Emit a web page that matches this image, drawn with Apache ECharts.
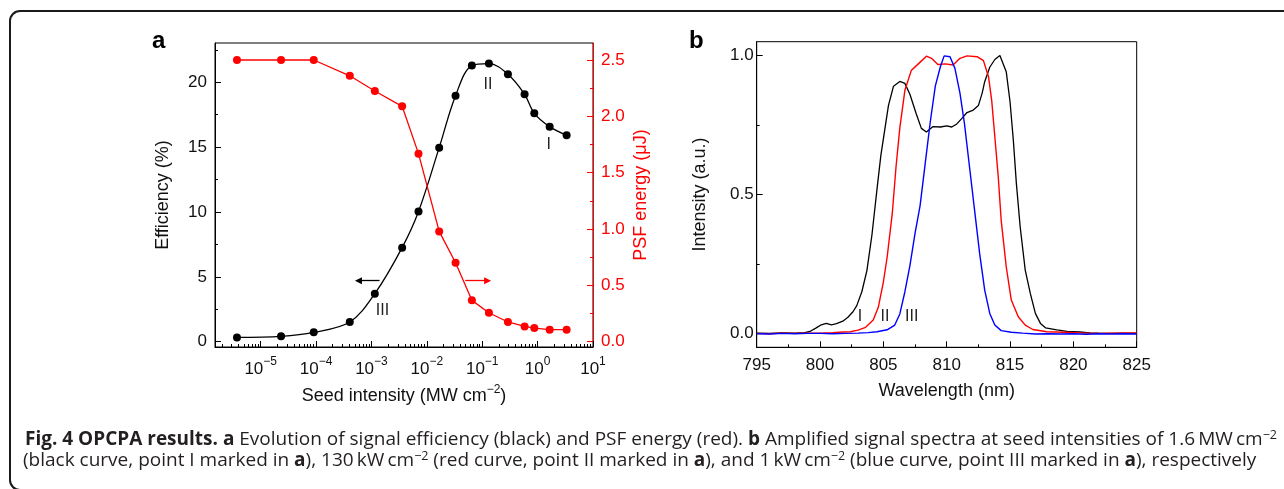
<!DOCTYPE html>
<html>
<head>
<meta charset="utf-8">
<script src="https://cdn.jsdelivr.net/npm/echarts@6/dist/echarts.min.js"></script>
<style>
  html, body { margin: 0; padding: 0; background: #fff; }
  #chart { width: 1284px; height: 489px; }
</style>
</head>
<body>
<div id="chart"></div>
<script>
// ---- Panel a: signal efficiency and PSF energy versus seed intensity ----
const seedIntensity = [3.73e-6, 2.33e-5, 9.08e-5, 4.06e-4, 1.15e-3, 3.58e-3, 7.07e-3, 1.67e-2,
                       3.30e-2, 6.50e-2, 0.132, 0.291, 0.582, 0.871, 1.65, 3.34];   // MW cm^-2
const efficiency    = [0.33, 0.41, 0.72, 1.52, 3.70, 7.25, 10.03, 14.96,
                       18.97, 21.29, 21.44, 20.62, 19.07, 17.61, 16.58, 15.91];      // %
const psfEnergy     = [2.50, 2.50, 2.50, 2.36, 2.225, 2.089, 1.669, 0.979,
                       0.701, 0.367, 0.257, 0.175, 0.136, 0.121, 0.107, 0.107];      // µJ

const seedMajorTicks = [1e-5, 1e-4, 1e-3, 1e-2, 1e-1, 1, 10];
const effTicks       = [0, 5, 10, 15, 20];
const effMinorTicks  = [2.5, 7.5, 12.5, 17.5, 22.5];
const psfTicks       = [0, 0.5, 1.0, 1.5, 2.0, 2.5];
const psfMinorTicks  = [0.25, 0.75, 1.25, 1.75, 2.25];

// point labels and direction arrows of panel a
const pointMarks = [
  { name: 'II',  x: 0.1265,  y: 19.85 },
  { name: 'I',   x: 1.58,    y: 15.22 },
  { name: 'III', x: 1.58e-3, y: 2.39 }
];
const effArrow = [[1.40e-3, 4.70], [5.82e-4, 4.70]];   // efficiency axis
const psfArrow = [[0.0493, 0.541], [0.125, 0.541]];    // PSF energy axis

// ---- Panel b: amplified signal spectra (wavelength nm, normalised intensity) ----
const spectrumI = [ // 1.6 MW cm^-2
  [795, 0.001], [796, 0.0], [797, 0.002], [798, 0.001], [798.8, 0.003], [799.2, 0.007],
  [799.7, 0.02], [800.1, 0.031], [800.5, 0.036], [800.9, 0.031], [801.3, 0.035], [801.8, 0.044],
  [802.2, 0.058], [802.6, 0.078], [802.9, 0.1], [803.3, 0.15], [803.7, 0.226], [804.1, 0.355],
  [804.5, 0.52], [804.8, 0.64], [805.1, 0.73], [805.4, 0.82], [805.8, 0.89], [806.3, 0.907],
  [806.7, 0.9], [807.1, 0.86], [807.6, 0.79], [808.0, 0.738], [808.4, 0.725], [808.9, 0.744],
  [809.5, 0.743], [810.0, 0.747], [810.4, 0.743], [810.8, 0.754], [811.2, 0.774], [811.6, 0.795],
  [812.1, 0.804], [812.5, 0.82], [812.8, 0.865], [813.0, 0.906], [813.4, 0.958], [813.8, 0.986],
  [814.2, 1.0], [814.7, 0.942], [815.0, 0.834], [815.26, 0.696], [815.5, 0.54], [815.8, 0.384],
  [816.2, 0.228], [816.6, 0.144], [817.0, 0.072], [817.4, 0.036], [817.8, 0.02], [818.7, 0.013],
  [819.5, 0.007], [820.5, 0.005], [821.3, 0.002], [822, 0.001], [823, 0.0], [824, 0.001], [825, 0.0]
];
const spectrumII = [ // 130 kW cm^-2
  [795, 0.0], [796, -0.001], [797, 0.001], [798, 0.0], [799, 0.001], [800, 0.001], [801, 0.003],
  [801.8, 0.005], [802.4, 0.006], [803.0, 0.012], [803.6, 0.022], [804.2, 0.048], [804.6, 0.094],
  [805.0, 0.185], [805.3, 0.275], [805.7, 0.43], [806.0, 0.6], [806.3, 0.74], [806.7, 0.875],
  [807.2, 0.946], [807.8, 0.972], [808.4, 0.998], [808.8, 0.99], [809.3, 0.968], [809.9, 0.97],
  [810.5, 0.966], [811.05, 0.99], [811.6, 0.999], [812.4, 0.996], [812.9, 0.982], [813.3, 0.924],
  [813.55, 0.84], [813.8, 0.708], [814.07, 0.564], [814.3, 0.408], [814.7, 0.24], [815.1, 0.12],
  [815.65, 0.06], [816.2, 0.03], [816.8, 0.014], [817.9, 0.006], [819.2, 0.004], [820.5, 0.002],
  [821.6, 0.0], [823, 0.001], [825, 0.002]
];
const spectrumIII = [ // 1 kW cm^-2
  [795, -0.001], [796, -0.002], [797, 0.0], [798, -0.001], [799, 0.0], [800, 0.0], [801, -0.001],
  [802, 0.0], [803, 0.001], [803.8, 0.003], [804.5, 0.006], [805.3, 0.013], [805.9, 0.03],
  [806.3, 0.07], [806.7, 0.15], [807.1, 0.245], [807.5, 0.36], [807.9, 0.46], [808.3, 0.61],
  [808.7, 0.76], [809.1, 0.89], [809.5, 0.96], [809.8, 0.999], [810.26, 0.996], [810.65, 0.954],
  [811.05, 0.864], [811.4, 0.756], [811.8, 0.6], [812.2, 0.444], [812.6, 0.288], [813.0, 0.156],
  [813.4, 0.072], [813.8, 0.03], [814.3, 0.01], [815.1, 0.004], [816, 0.001], [817, -0.002],
  [818, -0.001], [819, -0.002], [820, -0.001], [821, -0.003], [822, -0.001], [823, -0.002],
  [824, -0.001], [825, -0.002]
];
const intensityTicks      = [0, 0.5, 1.0];
const intensityMinorTicks = [0.25, 0.75];
const curveMarks = [
  { name: 'I',   x: 803.16, y: 0.062 },
  { name: 'II',  x: 805.13, y: 0.062 },
  { name: 'III', x: 807.24, y: 0.062 }
];

// ---- styling ----
const FONT = 'Liberation Sans';
const CAPTION_FONT = 'Open Sans';
const CAPTION_SIZE = 19;
const BLACK = '#000000', RED = '#ff0000', BLUE = '#0000ff', TEXT = '#111111', CAPTION_INK = '#231f20';
const SEED_MIN = Math.pow(10, -5.825), SEED_MAX = 10;

// minor ticks of the logarithmic axis: 2..9 within each decade
const seedMinorTicks = [];
for (let e = -6; e <= 0; e++) {
  for (let k = 2; k <= 9; k++) {
    const v = k * Math.pow(10, e);
    if (v > SEED_MIN && v < SEED_MAX) seedMinorTicks.push(v);
  }
}

const supRich = (size, color) => ({
  fontSize: size, lineHeight: size, verticalAlign: 'top', fontFamily: FONT, color: color
});

function powLabel(v) {
  const e = Math.round(Math.log10(v));
  return '{n|10}{s|' + String(e).replace('-', '\u2212') + '}';
}

function lineStyleAxis(color) {
  return { show: true, onZero: false, lineStyle: { color: color, width: 1 } };
}

// overlay axis carrying only short minor ticks
function minorOverlay(base, values, color) {
  return Object.assign({
    axisLine: { show: false, onZero: false },
    axisTick: { show: true, inside: true, length: 3, customValues: values, lineStyle: { color: color, width: 1 } },
    axisLabel: { show: false },
    splitLine: { show: false },
    axisPointer: { show: false },
    silent: true
  }, base);
}

const nameStyle = (color) => ({ fontSize: 18, fontFamily: FONT, color: color, lineHeight: 24 });

const captionRich = {
  b: { fontSize: CAPTION_SIZE, fontFamily: CAPTION_FONT, fontWeight: 'bold', fill: CAPTION_INK, lineHeight: 22 },
  s: { fontSize: 12.5, fontFamily: CAPTION_FONT, fill: CAPTION_INK, lineHeight: 12, verticalAlign: 'top' }
};

const chart = echarts.init(document.getElementById('chart'), null, { renderer: 'canvas' });

chart.setOption({
  animation: false,
  backgroundColor: '#ffffff',
  textStyle: { fontFamily: FONT },
  grid: [
    { left: 215, top: 43, width: 378, height: 304, show: true, borderColor: BLACK, borderWidth: 1,
      containLabel: false, outerBoundsMode: 'none' },
    { left: 756.7, top: 41.7, width: 380, height: 305.6, show: true, borderColor: BLACK, borderWidth: 1,
      containLabel: false, outerBoundsMode: 'none' }
  ],
  xAxis: [
    {
      type: 'log', logBase: 10, gridIndex: 0, position: 'bottom', min: SEED_MIN, max: SEED_MAX,
      axisLine: lineStyleAxis(BLACK),
      axisTick: { inside: true, length: 6, customValues: seedMajorTicks, lineStyle: { color: BLACK } },
      axisLabel: {
        customValues: seedMajorTicks, margin: 9, formatter: powLabel,
        rich: { n: { fontSize: 17, lineHeight: 26, fontFamily: FONT, color: TEXT }, s: supRich(12, TEXT) }
      },
      splitLine: { show: false },
      name: 'Seed intensity (MW cm{s|\u22122})', nameLocation: 'middle', nameGap: 37,
      nameTextStyle: Object.assign(nameStyle(TEXT), { rich: { s: supRich(12, TEXT) } })
    },
    minorOverlay({ type: 'log', logBase: 10, gridIndex: 0, position: 'bottom', min: SEED_MIN, max: SEED_MAX },
                 seedMinorTicks, BLACK),
    {
      type: 'value', gridIndex: 1, position: 'bottom', min: 795, max: 825, interval: 5,
      axisLine: lineStyleAxis(BLACK),
      axisTick: { inside: true, length: 6, lineStyle: { color: BLACK } },
      minorTick: { show: true, splitNumber: 2, length: 3, lineStyle: { color: BLACK } },
      axisLabel: { margin: 10, fontSize: 17, color: TEXT, fontFamily: FONT },
      splitLine: { show: false },
      name: 'Wavelength (nm)', nameLocation: 'middle', nameGap: 32,
      nameTextStyle: nameStyle(TEXT)
    }
  ],
  yAxis: [
    {
      type: 'value', gridIndex: 0, position: 'left', min: -0.41, max: 23.03,
      axisLine: lineStyleAxis(BLACK),
      axisTick: { inside: true, length: 6, customValues: effTicks, lineStyle: { color: BLACK } },
      axisLabel: { customValues: effTicks, margin: 8, fontSize: 17, color: TEXT, fontFamily: FONT },
      splitLine: { show: false },
      name: 'Efficiency (%)', nameLocation: 'middle', nameGap: 40,
      nameTextStyle: nameStyle(TEXT)
    },
    minorOverlay({ type: 'value', gridIndex: 0, position: 'left', min: -0.41, max: 23.03 }, effMinorTicks, BLACK),
    {
      type: 'value', gridIndex: 0, position: 'right', min: -0.047, max: 2.651,
      axisLine: lineStyleAxis(RED),
      axisTick: { inside: true, length: 6, customValues: psfTicks, lineStyle: { color: RED } },
      axisLabel: { customValues: psfTicks, margin: 8, fontSize: 17, color: RED, fontFamily: FONT,
                   formatter: (v) => v.toFixed(1) },
      splitLine: { show: false },
      name: 'PSF energy (\u03bcJ)', nameLocation: 'middle', nameGap: 22,
      nameTextStyle: nameStyle(RED)
    },
    minorOverlay({ type: 'value', gridIndex: 0, position: 'right', min: -0.047, max: 2.651 }, psfMinorTicks, RED),
    {
      type: 'value', gridIndex: 1, position: 'left', min: -0.05, max: 1.05,
      axisLine: lineStyleAxis(BLACK),
      axisTick: { inside: true, length: 6, customValues: intensityTicks, lineStyle: { color: BLACK } },
      axisLabel: { customValues: intensityTicks, margin: 3, fontSize: 17, color: TEXT, fontFamily: FONT,
                   formatter: (v) => v.toFixed(1) },
      splitLine: { show: false },
      name: 'Intensity (a.u.)', nameLocation: 'middle', nameGap: 45,
      nameTextStyle: nameStyle(TEXT)
    },
    minorOverlay({ type: 'value', gridIndex: 1, position: 'left', min: -0.05, max: 1.05 }, intensityMinorTicks, BLACK)
  ],
  series: [
    {
      name: 'Efficiency', type: 'line', xAxisIndex: 0, yAxisIndex: 0,
      data: seedIntensity.map((x, i) => [x, efficiency[i]]),
      smooth: 0.35, symbol: 'circle', symbolSize: 8, showSymbol: true,
      itemStyle: { color: BLACK }, lineStyle: { color: BLACK, width: 1.3 },
      emphasis: { disabled: true }, silent: true, z: 3,
      markLine: {
        silent: true, symbol: ['none', 'triangle'], symbolSize: 7, animation: false,
        label: { show: false },
        lineStyle: { color: BLACK, width: 1.3, type: 'solid' },
        data: [[{ coord: effArrow[0] }, { coord: effArrow[1] }]]
      },
      markPoint: {
        silent: true, symbol: 'rect', symbolSize: 1, itemStyle: { color: 'rgba(0,0,0,0)' },
        label: { show: true, position: 'inside', formatter: '{b}', fontSize: 16, color: '#222', fontFamily: FONT },
        data: pointMarks.map(m => ({ name: m.name, coord: [m.x, m.y] }))
      }
    },
    {
      name: 'PSF energy', type: 'line', xAxisIndex: 0, yAxisIndex: 2,
      data: seedIntensity.map((x, i) => [x, psfEnergy[i]]),
      symbol: 'circle', symbolSize: 8, showSymbol: true,
      itemStyle: { color: RED }, lineStyle: { color: RED, width: 1.3 },
      emphasis: { disabled: true }, silent: true, z: 4,
      markLine: {
        silent: true, symbol: ['none', 'triangle'], symbolSize: 7, animation: false,
        label: { show: false },
        lineStyle: { color: RED, width: 1.3, type: 'solid' },
        data: [[{ coord: psfArrow[0] }, { coord: psfArrow[1] }]]
      }
    },
    {
      name: 'I', type: 'line', xAxisIndex: 2, yAxisIndex: 4, data: spectrumI,
      symbol: 'none', lineStyle: { color: BLACK, width: 1.3 }, emphasis: { disabled: true }, silent: true,
      markPoint: {
        silent: true, symbol: 'rect', symbolSize: 1, itemStyle: { color: 'rgba(0,0,0,0)' },
        label: { show: true, position: 'inside', formatter: '{b}', fontSize: 16, color: '#222', fontFamily: FONT },
        data: curveMarks.map(m => ({ name: m.name, coord: [m.x, m.y] }))
      }
    },
    {
      name: 'II', type: 'line', xAxisIndex: 2, yAxisIndex: 4, data: spectrumII,
      symbol: 'none', lineStyle: { color: RED, width: 1.4 }, emphasis: { disabled: true }, silent: true
    },
    {
      name: 'III', type: 'line', xAxisIndex: 2, yAxisIndex: 4, data: spectrumIII,
      symbol: 'none', lineStyle: { color: BLUE, width: 1.4 }, emphasis: { disabled: true }, silent: true
    }
  ],
  graphic: [
    { type: 'rect', silent: true, z: 0,
      shape: { x: 10, y: 11, width: 1300, height: 479, r: 10 },
      style: { fill: 'none', stroke: '#1a1a1a', lineWidth: 2 } },
    { type: 'text', left: 152, top: 29, silent: true,
      style: { text: 'a', fontSize: 24, fontWeight: 'bold', fontFamily: FONT, fill: BLACK } },
    { type: 'text', left: 689, top: 29, silent: true,
      style: { text: 'b', fontSize: 24, fontWeight: 'bold', fontFamily: FONT, fill: BLACK } },
    { type: 'text', x: 25, y: 440, silent: true,
      style: {
        text: '{b|Fig. 4 OPCPA results. a} Evolution of signal efficiency (black) and PSF energy (red). {b|b} Amplified signal spectra at seed intensities of 1.6\u2009MW\u2009cm{s|\u22122}',
        fontSize: CAPTION_SIZE, fontFamily: CAPTION_FONT, fill: CAPTION_INK, lineHeight: 22, verticalAlign: 'middle',
        rich: captionRich
      } },
    { type: 'text', x: 23, y: 461, silent: true,
      style: {
        text: '(black curve, point I marked in {b|a}), 130\u2009kW\u2009cm{s|\u22122} (red curve, point II marked in {b|a}), and 1\u2009kW\u2009cm{s|\u22122} (blue curve, point III marked in {b|a}), respectively',
        fontSize: CAPTION_SIZE, fontFamily: CAPTION_FONT, fill: CAPTION_INK, lineHeight: 22, verticalAlign: 'middle',
        rich: captionRich
      } }
  ]
});
</script>
</body>
</html>
